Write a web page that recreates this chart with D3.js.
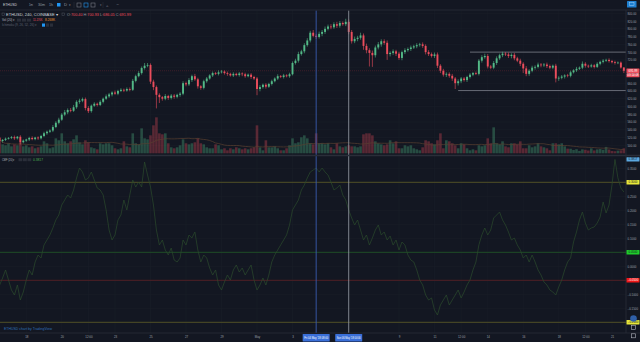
<!DOCTYPE html>
<html>
<head>
<meta charset="utf-8">
<script src="https://cdn.jsdelivr.net/npm/d3@7"></script>
<style>
  html, body { margin: 0; background: #131722; overflow: hidden; }
  svg { display: block; }
  text { font-family: "Liberation Sans", Arial, sans-serif; }
</style>
</head>
<body>
<svg id="chart" width="640" height="342"></svg>
<script>
// ETHUSD, 4h bars, Coinbase — 16 Apr 2018 12:00 to 21 May 2018 16:00 (UTC)
const firstBar = Date.UTC(2018, 3, 16, 12);
const barMs = 4 * 3600 * 1000;
const firstOpen = 520;

const closes = [511,514,517,519,521,518,522,508,512,515, 519,516,520,518,524,531,535,538,547,558,
  566,579,585,591,589,598,612,615,619,596, 588,602,607,604,612,620,626,631,636,633,
  640,643,641,645,643,666,678,686,699,705, 707,664,650,630,624,620,627,622,628,625,
  630,633,660,657,668,678,670,652,648,665, 672,680,686,684,688,690,686,684,680,684,
  681,685,683,678,682,676,672,645,650,656, 651,658,665,672,678,676,680,678,683,712,
  718,735,742,758,770,790,782,779,787,792, 800,806,804,812,808,815,812,818,792,768,
  774,777,783,756,745,738,732,752,760,768, 764,735,738,742,736,725,740,745,748,752,
  755,758,760,756,740,735,730,734,705,692, 682,684,679,672,660,665,672,668,676,682,
  686,684,718,727,730,703,700,712,724,732, 736,734,730,733,724,718,710,698,684,692,
  700,702,708,706,708,704,700,705,672,674, 677,680,679,688,693,697,700,710,705,703,
  706,702,710,715,718,720,717,714,712,713, 700.40,691.99];

// wick lengths above the body top / below the body bottom, in USD
const wickUp = [3,2,3,2,3,4,2,4,3,2, 3,4,2,3,3,4,3,3,5,4, 5,4,6,4,5,6,4,5,4,4,
  5,3,4,3,4,3,5,4,3,5, 3,4,3,4,4,5,4,5,4,7, 5,4,5,4,4,3,5,3,4,4,
  3,4,5,4,5,4,6,4,3,4, 4,3,4,3,5,4,3,4,3,4, 3,4,3,4,3,4,3,4,5,3,
  4,3,4,3,5,3,4,3,4,4, 5,6,4,5,6,5,7,5,6,5, 6,5,6,5,6,5,4,8,6,5,
  6,5,7,5,6,5,6,5,6,5, 5,6,4,5,4,5,4,5,4,5, 4,5,4,5,4,5,4,5,5,4,
  5,4,4,5,4,5,4,4,3,4, 3,4,4,5,6,5,4,5,5,4, 5,4,5,4,5,4,5,4,6,4,
  5,4,5,4,4,5,4,3,5,4, 4,3,4,4,3,5,3,6,4,3, 4,3,4,3,4,3,4,3,4,3,
  3,0.53];
const wickDown = [3,4,3,2,3,4,3,6,3,3, 4,3,3,4,3,3,4,3,4,3, 4,3,4,5,4,3,4,5,4,6,
  5,4,3,4,3,4,3,4,5,3, 4,3,4,3,4,3,4,3,4,4, 4,6,8,35,15,5,4,5,4,5,
  4,5,4,5,4,5,4,6,5,4, 4,3,4,3,4,3,4,5,3,4, 3,4,5,4,3,5,4,16,6,4,
  5,3,4,3,4,3,4,3,4,3, 4,5,4,5,4,5,4,5,4,6, 5,4,5,4,6,5,4,5,6,6,
  5,6,5,10,8,35,30,6,5,6, 5,15,6,5,6,5,6,5,4,5, 4,5,4,5,6,5,4,5,6,6,
  5,6,5,6,15,6,5,4,5,4, 4,3,4,5,4,5,4,4,5,4, 5,4,5,6,5,4,6,12,6,5,
  4,5,4,5,4,5,4,4,10,6, 4,5,4,4,3,4,3,4,5,4, 3,4,3,4,4,3,4,3,4,3,
  3,5.94];

// volume per bar, thousands of ETH
const volumes = [29.1,20.1,17.9,22.4,15.6,20.1,17.9,24.6,15.6,17.9, 13.4,15.6,11.2,13.4,15.6,26.8,22.4,11.2,13.4,33.5,
  29.1,44.7,26.8,22.4,26.8,31.3,40.2,24.6,20.1,29.1, 24.6,13.4,11.2,8.9,22.4,20.1,22.4,22.4,17.9,11.2,
  8.9,11.2,26.8,15.6,13.4,44.7,22.4,20.1,55.9,33.5, 31.3,40.2,62.6,80.5,44.7,42.5,44.7,22.4,13.4,11.2,
  13.4,17.9,31.3,22.4,20.1,22.4,24.6,33.5,22.4,20.1, 13.4,11.2,11.2,20.1,17.9,8.9,11.2,6.7,11.2,8.9,
  13.4,11.2,8.9,11.2,8.9,11.2,13.4,62.6,13.4,6.7, 29.1,13.4,13.4,15.6,11.2,6.7,6.7,11.2,17.9,33.5,
  22.4,24.6,35.8,40.2,33.5,22.4,20.1,44.7,22.4,22.4, 20.1,22.4,13.4,8.9,22.4,15.6,13.4,15.6,17.9,15.6,
  15.6,13.4,15.6,42.5,44.7,44.7,40.2,26.8,22.4,20.1, 17.9,20.1,29.1,22.4,26.8,11.2,11.2,17.9,15.6,17.9,
  11.2,8.9,6.7,13.4,29.1,26.8,22.4,20.1,29.1,44.7, 11.2,29.1,26.8,22.4,17.9,11.2,22.4,20.1,11.2,6.7,
  8.9,6.7,17.9,15.6,17.9,33.5,22.4,58.1,22.4,20.1, 26.8,15.6,13.4,22.4,22.4,20.1,26.8,11.2,11.2,17.9,
  13.4,15.6,22.4,15.6,13.4,11.2,6.7,22.4,22.4,20.1, 22.4,15.6,10.4,10.184,7.5,9.2,5.3,8.8,7.9,6.2,
  11.1,6.4,8.7,9.6,7.8,14.3,8.5,5.1,4.6,6.0, 6.6,11.176];

// Chaikin Money Flow (20)
const cmf = [-0.0668,-0.0418,-0.0132,-0.0489,-0.0846,-0.1025,-0.0668,-0.1204,-0.0918,-0.0489,
  -0.0132,-0.0311,0.0154,0.0404,0.0296,0.0761,0.0939,0.1118,0.1368,0.1654,
  0.1832,0.2189,0.2368,0.2546,0.2439,0.2725,0.3154,0.3511,0.3368,0.3082,
  0.3154,0.3368,0.3082,0.2796,0.2725,0.2546,0.2011,0.1296,0.0939,0.1118,
  0.1654,0.1832,0.2368,0.2011,0.2546,0.3082,0.2832,0.3011,0.2832,0.3725,
  0.3261,0.2832,0.2189,0.1296,0.0761,0.0939,0.0582,0.0404,0.0654,0.0225,
  0.0154,0.0296,0.0939,0.0761,0.1118,0.1011,0.1225,0.0582,0.0154,0.0404,
  0.0296,-0.0061,-0.0311,-0.0132,-0.0668,-0.0846,-0.0561,-0.0311,-0.0489,-0.0132,
  0.0046,-0.0204,-0.0061,-0.0311,-0.0132,0.0046,-0.0489,-0.0846,-0.0668,-0.0418,
  -0.0668,-0.0311,0.0154,0.0404,0.0582,0.0761,0.0939,0.1118,0.1475,0.2011,
  0.2189,0.2368,0.2725,0.2904,0.3154,0.3368,0.3439,0.3511,0.3368,0.3511,
  0.3368,0.3261,0.3011,0.2725,0.2796,0.2904,0.2546,0.2368,0.2011,0.1725,
  0.1475,0.1654,0.1296,0.0939,0.1118,0.0761,0.1011,0.1296,0.1475,0.1118,
  0.1225,0.0939,0.1082,0.0761,0.0939,0.0582,0.0868,0.0761,0.0404,0.0225,
  0.0154,-0.0132,-0.0489,-0.0668,-0.1025,-0.1204,-0.1132,-0.1561,-0.1739,-0.1382,
  -0.1204,-0.1025,-0.1382,-0.1204,-0.1025,-0.0846,-0.1132,-0.0918,-0.0668,-0.0489,
  -0.0132,0.0154,0.0761,0.1118,0.1368,0.1118,0.1296,0.1725,0.1832,0.1939,
  0.1654,0.1475,0.1225,0.0939,0.1011,0.0761,0.0582,0.0296,0.0404,0.0154,
  0.0404,0.0154,-0.0132,-0.0311,-0.0561,-0.0668,-0.0846,-0.0918,-0.1025,-0.0739,
  -0.0489,-0.0132,0.0154,0.0296,0.0868,0.1225,0.1654,0.1939,0.1546,0.1296,
  0.1368,0.1404,0.1546,0.1761,0.2296,0.1904,0.2189,0.2904,0.3817,0.3154,
  0.2796,0.2654];

const priceTicks = [840,820,800,780,760,740,720,700,680,660,640,620,600,580,560,540,520,500];
const cmfTicks = [0.35,0.30,0.25,0.20,0.15,0.10,0.05,0,-0.05,-0.10,-0.15,-0.20];
const cmfLevels = [0.30, 0.05, -0.05, -0.20];
const timeTicks = [Date.UTC(2018,3,18), Date.UTC(2018,3,20), Date.UTC(2018,3,21,12), Date.UTC(2018,3,23),
  Date.UTC(2018,3,25), Date.UTC(2018,3,27), Date.UTC(2018,3,29), Date.UTC(2018,4,1), Date.UTC(2018,4,3),
  Date.UTC(2018,4,9), Date.UTC(2018,4,11), Date.UTC(2018,4,12,12), Date.UTC(2018,4,14), Date.UTC(2018,4,16),
  Date.UTC(2018,4,18), Date.UTC(2018,4,19,12), Date.UTC(2018,4,21)];
const timeLabels = ["18","20","12:00","23","25","27","29","May","3","9","11","12:00","14","16","18","12:00","21"];
const rayPrices = [740, 641];
const rayStarts = [Date.UTC(2018,4,13,0), Date.UTC(2018,4,12,8)];
const markerTimes = [Date.UTC(2018,4,4,8), Date.UTC(2018,4,6,4)];

// ---- layout ----
const plotR = 626, W = 640;
const mainTop = 10.5, mainBot = 155.5, timeTop = 333;

const UP = "#53b987", DOWN = "#eb4d5c", BG = "#131722", GRID = "#1a1e29", AXIS_TXT = "#9ea1aa";

const bars = closes.map((c, i) => {
  const o = i ? closes[i - 1] : firstOpen;
  return { t: firstBar + i * barMs, o, c,
    h: Math.max(o, c) + wickUp[i], l: Math.min(o, c) - wickDown[i], v: volumes[i], cmf: cmf[i] };
});
const volMA = bars.map((b, i) => d3.mean(volumes.slice(Math.max(0, i - 19), i + 1)));

const x = d3.scaleUtc().domain([Date.UTC(2018,3,16,12,30), Date.UTC(2018,4,21,18,56)]).range([0, plotR]);
const y = d3.scaleLinear().domain([500, 840]).range([145.3, 13.3]);
const yv = d3.scaleLinear().domain([0, 89.5]).range([153.3, 113.3]);
const yc = d3.scaleLinear().domain([-0.2, 0.35]).range([322.3, 168.3]);

const svg = d3.select("#chart");
svg.append("rect").attr("width", W).attr("height", 342).attr("fill", BG);

const defs = svg.append("defs");
defs.append("clipPath").attr("id", "clipMain").append("rect")
  .attr("x", 0).attr("y", mainTop).attr("width", plotR).attr("height", mainBot - mainTop);
defs.append("clipPath").attr("id", "clipCmf").append("rect")
  .attr("x", 0).attr("y", mainBot + 1).attr("width", plotR).attr("height", timeTop - mainBot - 1);

// ---- grid ----
const grid = svg.append("g").attr("stroke", GRID).attr("stroke-width", 0.6);
grid.selectAll(".vg").data(timeTicks).join("line")
  .attr("x1", d => x(d)).attr("x2", d => x(d)).attr("y1", mainTop).attr("y2", timeTop);
grid.selectAll(".hg").data(priceTicks).join("line")
  .attr("x1", 0).attr("x2", plotR).attr("y1", d => y(d)).attr("y2", d => y(d));
grid.selectAll(".cg").data(cmfTicks).join("line")
  .attr("x1", 0).attr("x2", plotR).attr("y1", d => yc(d)).attr("y2", d => yc(d));

// ---- main pane ----
const main = svg.append("g").attr("clip-path", "url(#clipMain)");
const last = bars[bars.length - 1];

main.append("g").selectAll("rect").data(bars).join("rect")
  .attr("x", d => x(d.t) - 1.3).attr("width", 2.6)
  .attr("y", d => yv(d.v)).attr("height", d => yv(0) - yv(d.v))
  .attr("fill", d => d.c >= d.o ? UP : DOWN).attr("fill-opacity", 0.33);

main.append("path").datum(bars)
  .attr("fill", "none").attr("stroke", "#5a4030").attr("stroke-width", 0.7)
  .attr("d", d3.line().x(d => x(d.t)).y((d, i) => yv(volMA[i])));

// last price line
main.append("line").attr("x1", 0).attr("x2", plotR).attr("y1", y(last.c)).attr("y2", y(last.c))
  .attr("stroke", "#5a2430").attr("stroke-width", 0.6).attr("stroke-dasharray", "1,1");

// horizontal rays
main.selectAll(".ray").data(rayPrices).join("line")
  .attr("x1", (d, i) => x(rayStarts[i])).attr("x2", plotR)
  .attr("y1", d => y(d)).attr("y2", d => y(d))
  .attr("stroke", "#6f737e").attr("stroke-width", 0.9);

const candles = main.append("g");
candles.selectAll("line").data(bars).join("line")
  .attr("x1", d => x(d.t)).attr("x2", d => x(d.t))
  .attr("y1", d => y(d.h)).attr("y2", d => y(d.l))
  .attr("stroke", d => d.c >= d.o ? UP : DOWN).attr("stroke-width", 0.6);
candles.selectAll("rect").data(bars).join("rect")
  .attr("x", d => x(d.t) - 0.95).attr("width", 1.9)
  .attr("y", d => y(Math.max(d.o, d.c)))
  .attr("height", d => Math.max(0.6, Math.abs(y(d.o) - y(d.c))))
  .attr("fill", d => d.c >= d.o ? UP : DOWN);

// ---- CMF pane ----
const low = svg.append("g").attr("clip-path", "url(#clipCmf)");
const levelColors = ["#5e5d27", "#205a26", "#5e2024", "#5e5d27"];
low.selectAll(".lvl").data(cmfLevels).join("line")
  .attr("x1", 0).attr("x2", plotR).attr("y1", d => yc(d)).attr("y2", d => yc(d))
  .attr("stroke", (d, i) => levelColors[i]).attr("stroke-width", 0.8);
low.append("path").datum(bars)
  .attr("fill", "none").attr("stroke", "#2b4a2c").attr("stroke-width", 0.7)
  .attr("d", d3.line().x(d => x(d.t)).y(d => yc(d.cmf)));

// ---- marker verticals ----
const markerColors = ["#3a5cb0", "#8c929c"];
svg.selectAll(".mk").data(markerTimes).join("line")
  .attr("x1", d => x(d)).attr("x2", d => x(d)).attr("y1", mainTop).attr("y2", timeTop)
  .attr("stroke", (d, i) => markerColors[i]).attr("stroke-width", 0.9);

// ---- separators ----
const sep = svg.append("g").attr("stroke", "#2a2e39");
sep.append("line").attr("x1", 0).attr("x2", W).attr("y1", 10).attr("y2", 10).attr("stroke-width", 0.8);
sep.append("line").attr("x1", 0).attr("x2", W).attr("y1", mainBot).attr("y2", mainBot).attr("stroke-width", 1.4);
sep.append("line").attr("x1", 0).attr("x2", W).attr("y1", timeTop).attr("y2", timeTop).attr("stroke-width", 0.8);
sep.append("line").attr("x1", plotR).attr("x2", plotR).attr("y1", 10).attr("y2", timeTop).attr("stroke-width", 0.8);

// ---- axes ----
function styleAxis(g) {
  g.select(".domain").remove();
  g.selectAll("line").remove();
  g.selectAll("text").attr("fill", AXIS_TXT).attr("font-size", 2.9)
    .attr("font-family", "Liberation Sans, Arial, sans-serif");
}
const lastY = y(last.c);
svg.append("g").attr("transform", `translate(${plotR + 1.5},0)`)
  .call(d3.axisRight(y).tickValues(priceTicks.filter(p => Math.abs(y(p) - lastY) > 6))
    .tickFormat(d3.format(".2f")).tickSize(0).tickPadding(0))
  .call(styleAxis);

const cmfPeak = d3.max(cmf);
svg.append("g").attr("transform", `translate(${plotR + 1.5},0)`)
  .call(d3.axisRight(yc).tickValues(cmfTicks.filter(v => !cmfLevels.includes(v)))
    .tickFormat(d3.format(".4f")).tickSize(0).tickPadding(0))
  .call(styleAxis);

svg.append("g").attr("transform", `translate(0,${timeTop + 2.5})`)
  .call(d3.axisBottom(x).tickValues(timeTicks).tickFormat((d, i) => timeLabels[i]).tickSize(0).tickPadding(0))
  .call(styleAxis);

// ---- axis value boxes ----
function axisBox(yPos, fill, txt, txtColor, h) {
  const g = svg.append("g");
  g.append("rect").attr("x", plotR + 0.5).attr("y", yPos - h / 2).attr("width", 13).attr("height", h)
    .attr("fill", fill).attr("rx", 0.5);
  g.append("text").attr("x", plotR + 7).attr("y", yPos + 1).attr("text-anchor", "middle")
    .attr("font-size", 2.9).attr("fill", txtColor).text(txt);
}
axisBox(lastY, DOWN, d3.format(".2f")(last.c), "#ffffff", 4.6);
axisBox(lastY + 4.5, DOWN, "03:14:08", "#ffffff", 4.2);
const boxFills = ["#e8e83a", "#1fcc2a", "#f01818", "#e8e83a"];
const boxText = ["#131722", "#131722", "#ffffff", "#131722"];
cmfLevels.forEach((v, i) => axisBox(yc(v), boxFills[i], d3.format(".4f")(v), boxText[i], 4.4));
axisBox(yc(cmfPeak), "#5ba8e0", d3.format(".4f")(cmfPeak), "#131722", 4.4);

// time-axis boxes for the two markers
const fmtMarker = d3.utcFormat("%a %d %b '%y %H:%M");
markerTimes.forEach(t => {
  svg.append("rect").attr("x", x(t) - 13.5).attr("y", timeTop + 1).attr("width", 27).attr("height", 7.5)
    .attr("fill", "#3a6fd8").attr("rx", 0.6);
  svg.append("text").attr("x", x(t)).attr("y", timeTop + 5.8).attr("text-anchor", "middle")
    .attr("font-size", 2.7).attr("fill", "#ffffff")
    .attr("textLength", 24).attr("lengthAdjust", "spacingAndGlyphs").text(fmtMarker(new Date(t)));
});

// ---- toolbar ----
function label(xp, yp, txt, fill, size, len) {
  const t = svg.append("text").attr("x", xp).attr("y", yp).attr("font-size", size).attr("fill", fill).text(txt);
  if (len) t.attr("textLength", len).attr("lengthAdjust", "spacingAndGlyphs");
  return t;
}
label(3, 6, "ETHUSD", "#d1d4dc", 3.6, 14);
label(29, 6, "1m", "#9598a1", 3.2, 4);
label(38, 6, "30m", "#9598a1", 3.2, 7);
label(49, 6, "1h", "#9598a1", 3.2, 4);
svg.append("rect").attr("x", 57).attr("y", 3).attr("width", 3.5).attr("height", 3.5).attr("fill", "#2196f3");
label(64, 6, "D", "#9598a1", 3.2, 3);
label(69, 6, "▾", "#9598a1", 3);
[74, 103].forEach(xx => svg.append("line").attr("x1", xx).attr("x2", xx).attr("y1", 2).attr("y2", 8)
  .attr("stroke", "#2a2e39").attr("stroke-width", 0.6));
[[77, "#787b86"], [84, "#2196f3"], [91, "#787b86"]].forEach(([xx, c]) =>
  svg.append("rect").attr("x", xx).attr("y", 3).attr("width", 4).attr("height", 4)
    .attr("fill", "none").attr("stroke", c).attr("stroke-width", 0.6));
label(100, 6, "▾", "#787b86", 3);
label(106, 6.5, "⟑", "#787b86", 4);
label(116, 6, "∼", "#787b86", 4);
svg.append("rect").attr("x", 627).attr("y", 1).attr("width", 9.5).attr("height", 6.5).attr("fill", "#1e7fd0").attr("rx", 0.6);
svg.append("rect").attr("x", 629.5).attr("y", 2.7).attr("width", 4.5).attr("height", 3).attr("fill", "none")
  .attr("stroke", "#9fd0f5").attr("stroke-width", 0.5);

// ---- legends ----
const downLast = last.c < last.o;
const valCol = downLast ? DOWN : UP;
svg.append("rect").attr("x", 2).attr("y", 13).attr("width", 2.6).attr("height", 2.6)
  .attr("fill", "none").attr("stroke", "#4c525e").attr("stroke-width", 0.5);
label(6, 16, "ETHUSD, 240, COINBASE ▾", "#d1d4dc", 3.7, 52);
svg.append("rect").attr("x", 62).attr("y", 13).attr("width", 2.6).attr("height", 2.6)
  .attr("fill", "none").attr("stroke", "#4c525e").attr("stroke-width", 0.5);
const f2 = d3.format(".2f");
const ohlc = svg.append("text").attr("x", 67).attr("y", 16).attr("font-size", 3.7)
  .attr("textLength", 64).attr("lengthAdjust", "spacingAndGlyphs");
[["O:", last.o], [" H:", last.h], [" L:", last.l], [" C:", last.c]].forEach(([k, v]) => {
  ohlc.append("tspan").attr("fill", "#9598a1").text(k);
  ohlc.append("tspan").attr("fill", valCol).text(f2(v));
});

label(2, 21.2, "Vol (20) ▾", "#b2b5be", 3.3, 13);
[17, 22, 27].forEach(xx => svg.append("rect").attr("x", xx).attr("y", 18.6).attr("width", 4).attr("height", 3)
  .attr("fill", "#2a2e39"));
const f3 = d3.format(".3f");
label(33, 21.2, f3(last.v) + "K", DOWN, 3.3, 9.5);
label(45, 21.2, f3(volMA[volMA.length - 1]) + "K", "#f0932b", 3.3, 10);

label(2, 26.2, "Ichimoku (9, 26, 52, 26) ▾", "#5d6270", 3.1, 35);
svg.append("rect").attr("x", 42).attr("y", 23.5).attr("width", 3).attr("height", 3.2).attr("fill", "#2196f3");
[46, 50].forEach(xx => svg.append("rect").attr("x", xx).attr("y", 23.5).attr("width", 3).attr("height", 3.2)
  .attr("fill", "#2a2e39"));

label(2, 160.8, "CMF (20) ▾", "#b2b5be", 3.3, 13);
[18.5, 23, 27.5].forEach(xx => svg.append("rect").attr("x", xx).attr("y", 158.2).attr("width", 3.8).attr("height", 3)
  .attr("fill", "#2a2e39"));
label(33, 160.8, d3.format(".4f")(cmfPeak), "#4caf50", 3.3, 10);

label(4, 330, "ETHUSD chart by TradingView", "#2f6fb8", 3.3, 48);

// ---- pane buttons ----
svg.append("circle").attr("cx", 633.5).attr("cy", 318.5).attr("r", 3.3).attr("fill", "#2f5fa8");
[[631.5, 325.5], [631.5, 333.8]].forEach(([xx, yy]) =>
  svg.append("rect").attr("x", xx).attr("y", yy).attr("width", 4).attr("height", 4)
    .attr("fill", "none").attr("stroke", "#b2b5be").attr("stroke-width", 0.6));
</script>
</body>
</html>
